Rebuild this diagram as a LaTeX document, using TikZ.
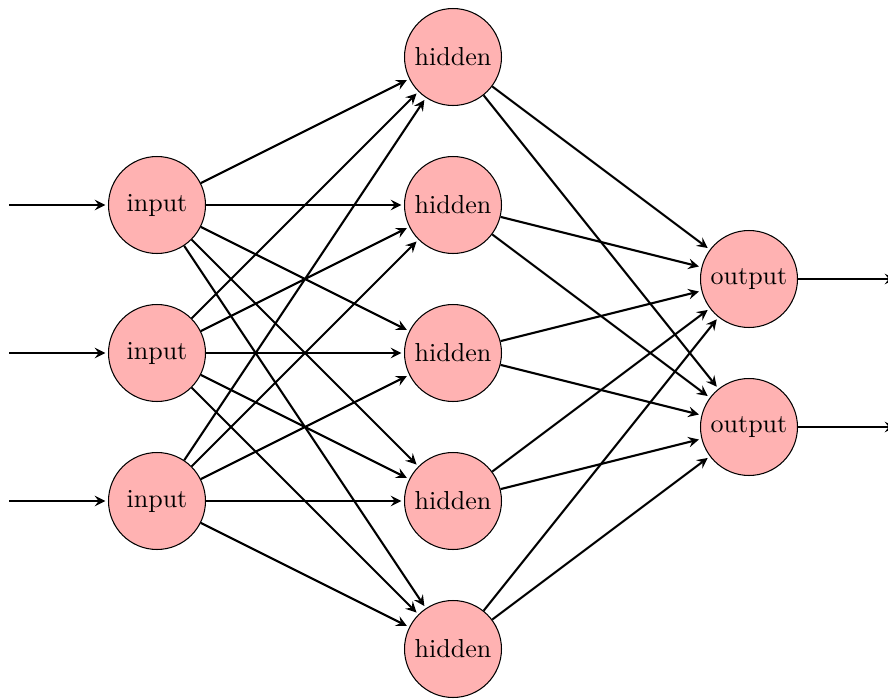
\documentclass[tikz,border=0pt]{standalone}
\usetikzlibrary{arrows}
\begin{document}
\begin{tikzpicture}[x=0.3846pt,y=-0.3846pt,
  neuron/.style={circle,draw=black,thin,fill=red!30,minimum size=37.3pt,inner sep=0pt},
  link/.style={->,>=stealth,thick,shorten >=1pt}]
  \useasboundingbox (0,0) rectangle (888,699);

  % input layer
  \foreach \i/\y in {1/205,2/353,3/501}{
    \node[neuron] (I\i) at (157,\y) {input};
    \coordinate (in\i) at (9,\y);
    \draw[link] (in\i) -- (I\i);
  }
  % hidden layer
  \foreach \h/\y in {1/57,2/205,3/353,4/501,5/649}
    \node[neuron] (H\h) at (453,\y) {hidden};
  % output layer
  \foreach \o/\y in {1/279,2/427}{
    \node[neuron] (O\o) at (749,\y) {output};
    \coordinate (out\o) at (898,\y);
    \draw[link] (O\o) -- (out\o);
  }
  % connections
  \foreach \i in {1,2,3}
    \foreach \h in {1,...,5}
      \draw[link] (I\i) -- (H\h);
  \foreach \h in {1,...,5}
    \foreach \o in {1,2}
      \draw[link] (H\h) -- (O\o);
\end{tikzpicture}
\end{document}
